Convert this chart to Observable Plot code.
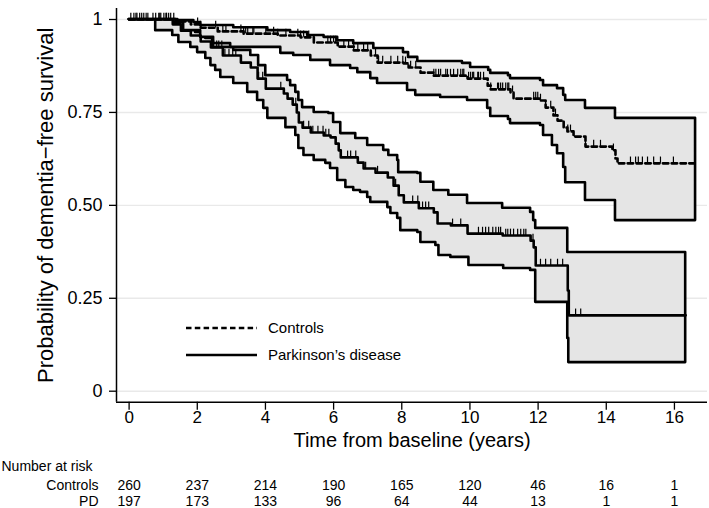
<!DOCTYPE html>
<html><head><meta charset="utf-8">
<script src="https://cdn.jsdelivr.net/npm/d3@7"></script>
<script src="https://cdn.jsdelivr.net/npm/@observablehq/plot@0.6"></script>
<style>
html,body{margin:0;padding:0;background:#fff;}
#wrap{position:relative;width:709px;height:508px;font-family:"Liberation Sans",Arial,sans-serif;}
#legend{position:absolute;left:0;top:0;pointer-events:none;}
</style></head><body><div id="wrap"></div>
<script>
// ---- Data ----
const pdEstT = [0, 1.28, 1.52, 1.81, 2.10, 2.40, 2.75, 3.28, 3.57, 3.77, 4.01, 4.54, 4.65, 4.80, 4.92, 4.98, 5.09, 5.33, 5.71, 5.91, 6.06, 6.15, 6.21, 6.71, 6.88, 7.23, 7.59, 7.76, 7.91, 8.06, 8.50, 8.94, 9.05, 9.44, 9.93, 10.96, 11.78, 11.87, 11.93, 12.87, 12.90, 16.33];
const pdEstS = [1, 0.987, 0.970, 0.957, 0.941, 0.925, 0.903, 0.884, 0.871, 0.841, 0.814, 0.801, 0.787, 0.771, 0.750, 0.723, 0.709, 0.696, 0.688, 0.683, 0.666, 0.648, 0.629, 0.615, 0.599, 0.588, 0.575, 0.553, 0.527, 0.508, 0.492, 0.481, 0.451, 0.446, 0.424, 0.419, 0.405, 0.387, 0.338, 0.271, 0.204, 0.204];

const pdHiT = [0, 1.37, 1.66, 1.95, 2.25, 2.45, 3.07, 3.57, 3.80, 4.01, 4.65, 4.74, 4.89, 4.98, 5.09, 5.43, 5.86, 6.00, 6.21, 6.65, 7.00, 7.47, 7.62, 7.88, 7.91, 8.47, 8.56, 8.94, 9.38, 9.93, 10.96, 11.78, 11.87, 11.93, 12.87, 16.33];
const pdHiS = [1, 0.992, 0.978, 0.965, 0.949, 0.925, 0.917, 0.903, 0.876, 0.849, 0.836, 0.822, 0.804, 0.782, 0.763, 0.750, 0.747, 0.723, 0.693, 0.680, 0.661, 0.648, 0.634, 0.621, 0.588, 0.586, 0.562, 0.540, 0.527, 0.505, 0.492, 0.481, 0.459, 0.438, 0.373, 0.373];

const pdLoT = [0, 0.78, 1.28, 1.46, 1.81, 2.01, 2.25, 2.40, 2.54, 2.69, 3.07, 3.48, 3.77, 3.95, 4.07, 4.60, 4.89, 4.98, 5.13, 5.43, 5.77, 5.91, 6.12, 6.36, 6.59, 6.79, 7.00, 7.09, 7.59, 7.68, 7.88, 7.97, 8.47, 8.56, 9.00, 9.09, 9.44, 9.97, 10.99, 11.78, 11.93, 12.87, 12.90, 16.33];
const pdLoS = [1, 0.970, 0.957, 0.938, 0.925, 0.911, 0.895, 0.876, 0.863, 0.844, 0.828, 0.804, 0.782, 0.761, 0.734, 0.709, 0.688, 0.653, 0.634, 0.621, 0.613, 0.599, 0.567, 0.548, 0.540, 0.535, 0.521, 0.508, 0.494, 0.478, 0.465, 0.432, 0.427, 0.400, 0.392, 0.365, 0.360, 0.338, 0.330, 0.325, 0.239, 0.142, 0.077, 0.077];

const ctlEstT = [0, 1.37, 1.81, 2.10, 2.60, 3.36, 4.36, 5.03, 5.42, 6.12, 6.59, 7.09, 7.29, 8.05, 8.20, 8.55, 8.94, 9.93, 10.52, 10.61, 11.19, 11.28, 12.07, 12.22, 12.45, 12.57, 12.75, 12.86, 13.04, 13.39, 14.18, 14.27, 14.33, 16.62];
const ctlEstS = [1, 0.995, 0.987, 0.978, 0.968, 0.962, 0.957, 0.952, 0.938, 0.927, 0.917, 0.903, 0.884, 0.882, 0.871, 0.857, 0.849, 0.841, 0.822, 0.812, 0.804, 0.787, 0.782, 0.763, 0.742, 0.728, 0.709, 0.699, 0.685, 0.658, 0.648, 0.626, 0.613, 0.613];

const ctlHiT = [0, 1.43, 1.90, 2.10, 3.07, 4.07, 4.74, 5.24, 5.72, 6.12, 6.59, 7.18, 8.05, 8.20, 8.47, 9.78, 10.02, 10.55, 10.61, 11.13, 11.19, 12.07, 12.16, 12.57, 12.75, 12.81, 13.39, 14.27, 16.62];
const ctlHiS = [1, 0.997, 0.992, 0.984, 0.978, 0.970, 0.965, 0.957, 0.952, 0.943, 0.935, 0.922, 0.911, 0.898, 0.887, 0.882, 0.871, 0.863, 0.855, 0.849, 0.841, 0.836, 0.822, 0.814, 0.796, 0.782, 0.761, 0.734, 0.734];

const ctlLoT = [0, 1.31, 1.60, 2.10, 2.48, 2.98, 4.45, 4.83, 5.33, 5.91, 6.50, 6.71, 7.09, 7.29, 8.17, 8.41, 9.14, 9.93, 10.52, 10.61, 11.13, 11.19, 12.07, 12.16, 12.42, 12.57, 12.75, 12.81, 13.39, 14.27, 16.62];
const ctlLoS = [1, 0.992, 0.970, 0.952, 0.935, 0.925, 0.909, 0.903, 0.890, 0.876, 0.868, 0.857, 0.841, 0.828, 0.809, 0.796, 0.790, 0.782, 0.761, 0.739, 0.731, 0.720, 0.715, 0.688, 0.661, 0.639, 0.602, 0.561, 0.513, 0.459, 0.459];

const ctlCensorT = [0.05,0.14,0.23,0.31,0.37,0.43,0.55,0.70,0.78,0.87,0.93,1.02,1.08,1.16,1.22,1.31,2.01,2.10,2.54,2.75,2.84,3.28,3.36,3.42,3.48,3.63,3.66,4.01,4.24,4.36,4.60,4.95,5.03,5.12,5.27,5.42,5.83,5.91,6.00,6.06,6.30,6.44,6.59,6.71,6.88,7.00,7.23,7.32,7.44,7.68,7.88,8.03,8.11,8.26,8.41,8.94,9.00,9.08,9.14,9.29,9.34,9.43,9.52,9.64,9.73,9.79,9.82,9.96,10.02,10.08,10.11,10.23,10.25,10.31,10.40,10.61,10.81,10.84,10.90,10.96,11.05,11.11,11.14,11.25,11.87,11.93,11.99,12.07,12.22,12.37,12.51,12.75,12.87,12.95,13.39,13.63,13.83,14.21,14.71,14.86,14.94,15.06,15.21,15.39,15.59,15.97];
const pdCensorT = [0.2,0.5,0.9,1.1,2.48,2.57,2.63,2.72,2.81,2.93,3.04,3.13,3.28,3.80,3.92,4.45,4.89,5.12,5.27,5.33,5.39,5.54,5.69,5.77,5.86,6.41,6.50,6.65,6.94,7.29,7.82,8.32,8.47,8.61,8.70,8.79,9.49,9.73,10.25,10.37,10.46,10.55,10.67,10.76,10.84,10.90,11.05,11.11,11.19,11.28,11.40,11.49,11.58,11.64,11.85,12.07,12.22,12.37,12.57,12.72,13.10,13.25];

const xTicks = [0, 2, 4, 6, 8, 10, 12, 14, 16];
const yTicks = [0, 0.25, 0.5, 0.75, 1];
const yTickLabels = ["0", "0.25", "0.50", "0.75", "1"];
const riskTimes = [0, 2, 4, 6, 8, 10, 12, 14, 16];
const riskControls = [260, 237, 214, 190, 165, 120, 46, 16, 1];
const riskPD = [197, 173, 133, 96, 64, 44, 13, 1, 1];
const legendLabels = ["Controls", "Parkinson\u2019s disease"];
const xTitle = "Time from baseline (years)";
const yTitle = "Probability of dementia\u2212free survival";

// ---- Build tables ----
const xDomain = [-0.37, 16.97];
const yDomain = [-0.0296, 1.0296];
function stepAt(T, S, t) { let v = S[0]; for (let i = 0; i < T.length; i++) { if (T[i] <= t) v = S[i]; else break; } return v; }
function curve(T, S) { return T.map((t, i) => ({t, s: S[i]})); }
function band(loT, loS, hiT, hiS) {
  const ts = Array.from(new Set([...loT, ...hiT])).sort((a, b) => a - b);
  return ts.map(t => ({t, lo: stepAt(loT, loS, t), hi: stepAt(hiT, hiS, t)}));
}
function censor(C, T, S) { return C.map(t => ({t, s: stepAt(T, S, t)})); }

const pdBand = band(pdLoT, pdLoS, pdHiT, pdHiS);
const ctlBand = band(ctlLoT, ctlLoS, ctlHiT, ctlHiS);
const pdEst = curve(pdEstT, pdEstS);
const ctlEst = curve(ctlEstT, ctlEstS);
const pdCens = censor(pdCensorT, pdEstT, pdEstS);
const ctlCens = censor(ctlCensorT, ctlEstT, ctlEstS);
const riskRows = riskTimes.map((t, i) => ({t, c: riskControls[i], p: riskPD[i]}));
const tickLen = 0.017;
const LW = 2.6;
const dash = "5.5,3.3";

const chart = Plot.plot({
  width: 709, height: 508,
  marginLeft: 116, marginRight: 2, marginTop: 8, marginBottom: 106.3,
  x: {domain: xDomain},
  y: {domain: yDomain},
  style: {fontFamily: "'Liberation Sans', Arial, sans-serif", background: "white", color: "black", overflow: "visible"},
  marks: [
    Plot.gridY(yTicks, {stroke: "#e9e9e9", strokeOpacity: 1, strokeWidth: 1.4}),
    Plot.areaY(pdBand, {x: "t", y1: "lo", y2: "hi", curve: "step-after", fill: "#e5e5e5", stroke: "black", strokeWidth: LW}),
    Plot.areaY(ctlBand, {x: "t", y1: "lo", y2: "hi", curve: "step-after", fill: "#e5e5e5", stroke: "black", strokeWidth: LW}),
    Plot.line(pdEst, {x: "t", y: "s", curve: "step-after", stroke: "black", strokeWidth: LW}),
    Plot.line(ctlEst, {x: "t", y: "s", curve: "step-after", stroke: "black", strokeWidth: LW, strokeDasharray: dash}),
    Plot.ruleX(pdCens, {x: "t", y1: "s", y2: d => d.s + tickLen, stroke: "black", strokeWidth: 1.2}),
    Plot.ruleX(ctlCens, {x: "t", y1: "s", y2: d => d.s + tickLen, stroke: "black", strokeWidth: 1.2}),
    Plot.ruleX([xDomain[0]], {stroke: "black", strokeWidth: 1.5}),
    Plot.ruleY([yDomain[0]], {stroke: "black", strokeWidth: 1.5}),
    Plot.axisX(xTicks, {anchor: "bottom", tickSize: 8, tickPadding: 1, fontSize: 17, strokeWidth: 1.3, label: null}),
    Plot.axisY(yTicks, {anchor: "left", tickSize: 7, tickPadding: 7, fontSize: 18, strokeWidth: 1.3, label: null,
      tickFormat: d => yTickLabels[yTicks.indexOf(d)]}),
    Plot.text([xTitle], {frameAnchor: "bottom", dy: 38, fontSize: 20, lineAnchor: "middle", textAnchor: "middle"}),
    Plot.text([yTitle], {frameAnchor: "left", rotate: -90, dx: -71, fontSize: 22, lineAnchor: "middle", textAnchor: "middle"}),
    Plot.text(["Number at risk"], {frameAnchor: "bottom-left", dx: -115, dy: 64, textAnchor: "start", fontSize: 14, lineAnchor: "middle"}),
    Plot.text(["Controls"], {frameAnchor: "bottom-left", dx: -18, dy: 83, textAnchor: "end", fontSize: 14, lineAnchor: "middle"}),
    Plot.text(["PD"], {frameAnchor: "bottom-left", dx: -18, dy: 99, textAnchor: "end", fontSize: 14, lineAnchor: "middle"}),
    Plot.text(riskRows, {x: "t", text: "c", frameAnchor: "bottom", dy: 83, fontSize: 14, lineAnchor: "middle", textAnchor: "middle"}),
    Plot.text(riskRows, {x: "t", text: "p", frameAnchor: "bottom", dy: 99, fontSize: 14, lineAnchor: "middle", textAnchor: "middle"})
  ]
});
const wrap = document.getElementById("wrap");
wrap.appendChild(chart);

// ---- Legend (overlay inside the plot area) ----
const ns = "http://www.w3.org/2000/svg";
const leg = document.createElementNS(ns, "svg");
leg.setAttribute("id", "legend");
leg.setAttribute("width", 709); leg.setAttribute("height", 508);
const legRows = [{y: 328, dash: dash}, {y: 355, dash: null}];
legendLabels.forEach((lab, i) => {
  const r = legRows[i];
  const ln = document.createElementNS(ns, "line");
  ln.setAttribute("x1", 186); ln.setAttribute("x2", 257);
  ln.setAttribute("y1", r.y); ln.setAttribute("y2", r.y);
  ln.setAttribute("stroke", "black"); ln.setAttribute("stroke-width", LW);
  if (r.dash) ln.setAttribute("stroke-dasharray", r.dash);
  leg.appendChild(ln);
  const tx = document.createElementNS(ns, "text");
  tx.setAttribute("x", 268); tx.setAttribute("y", r.y);
  tx.setAttribute("dy", "0.35em");
  tx.setAttribute("font-size", 15);
  tx.setAttribute("font-family", "'Liberation Sans', Arial, sans-serif");
  tx.textContent = lab;
  leg.appendChild(tx);
});
wrap.appendChild(leg);
</script>
</body></html>
